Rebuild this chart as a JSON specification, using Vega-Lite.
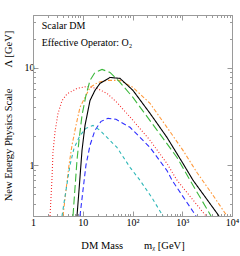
{
  "$schema": "https://vega.github.io/schema/vega-lite/v6.json",
  "width": 199,
  "height": 201,
  "autosize": {"type": "none"},
  "padding": {"left": 33, "top": 15, "right": 8, "bottom": 40},
  "config": {
    "view": {"stroke": "#9a9a9a", "strokeWidth": 1},
    "font": "Liberation Serif",
    "axis": {
      "domainColor": "#9a9a9a",
      "tickColor": "#9a9a9a",
      "labelColor": "#000",
      "labelFont": "Liberation Serif",
      "labelFontSize": 10,
      "titleFont": "Liberation Serif",
      "titleFontSize": 10.5,
      "titleFontWeight": "normal",
      "titleColor": "#000",
      "grid": false
    }
  },
  "data": {
    "values": [
      {"s": "red", "m": 2.20, "L": 0.3},
      {"s": "red", "m": 2.41, "L": 0.73},
      {"s": "red", "m": 2.52, "L": 1.35},
      {"s": "red", "m": 2.77, "L": 2.2},
      {"s": "red", "m": 3.18, "L": 3.4},
      {"s": "red", "m": 3.83, "L": 4.6},
      {"s": "red", "m": 4.82, "L": 5.40},
      {"s": "red", "m": 7.66, "L": 6.15},
      {"s": "red", "m": 12.2, "L": 6.45},
      {"s": "red", "m": 19.3, "L": 6.15},
      {"s": "red", "m": 30.7, "L": 5.47},
      {"s": "red", "m": 48.7, "L": 4.42},
      {"s": "red", "m": 102, "L": 2.89},
      {"s": "red", "m": 225, "L": 1.80},
      {"s": "red", "m": 493, "L": 1.04},
      {"s": "red", "m": 784, "L": 0.70},
      {"s": "red", "m": 3000, "L": 0.3},

      {"s": "orange", "m": 4.01, "L": 0.3},
      {"s": "orange", "m": 4.60, "L": 0.55},
      {"s": "orange", "m": 5.29, "L": 1.0},
      {"s": "orange", "m": 6.08, "L": 1.60},
      {"s": "orange", "m": 7.31, "L": 2.56},
      {"s": "orange", "m": 8.80, "L": 3.93},
      {"s": "orange", "m": 14.0, "L": 6.30},
      {"s": "orange", "m": 20.3, "L": 7.10},
      {"s": "orange", "m": 30.7, "L": 7.44},
      {"s": "orange", "m": 56.1, "L": 7.44},
      {"s": "orange", "m": 102, "L": 6.30},
      {"s": "orange", "m": 225, "L": 4.32},
      {"s": "orange", "m": 493, "L": 2.45},
      {"s": "orange", "m": 1035, "L": 1.42},
      {"s": "orange", "m": 1977, "L": 0.84},
      {"s": "orange", "m": 4150, "L": 0.49},
      {"s": "orange", "m": 7930, "L": 0.3},

      {"s": "green", "m": 6.37, "L": 0.3},
      {"s": "green", "m": 6.98, "L": 0.58},
      {"s": "green", "m": 7.66, "L": 1.12},
      {"s": "green", "m": 8.41, "L": 1.80},
      {"s": "green", "m": 9.66, "L": 3.25},
      {"s": "green", "m": 11.6, "L": 5.22},
      {"s": "green", "m": 14.0, "L": 7.44},
      {"s": "green", "m": 17.6, "L": 8.99},
      {"s": "green", "m": 24.4, "L": 9.65},
      {"s": "green", "m": 35.3, "L": 8.99},
      {"s": "green", "m": 56.1, "L": 7.10},
      {"s": "green", "m": 102, "L": 4.97},
      {"s": "green", "m": 283, "L": 2.45},
      {"s": "green", "m": 784, "L": 1.20},
      {"s": "green", "m": 1432, "L": 0.70},
      {"s": "green", "m": 3785, "L": 0.3},

      {"s": "blue", "m": 8.80, "L": 0.3},
      {"s": "blue", "m": 10.1, "L": 0.55},
      {"s": "blue", "m": 11.6, "L": 1.0},
      {"s": "blue", "m": 14.0, "L": 1.6},
      {"s": "blue", "m": 17.6, "L": 2.28},
      {"s": "blue", "m": 23.3, "L": 2.82},
      {"s": "blue", "m": 32.2, "L": 3.03},
      {"s": "blue", "m": 46.6, "L": 2.96},
      {"s": "blue", "m": 89.1, "L": 2.45},
      {"s": "blue", "m": 225, "L": 1.52},
      {"s": "blue", "m": 493, "L": 0.88},
      {"s": "blue", "m": 623, "L": 0.70},
      {"s": "blue", "m": 1890, "L": 0.3},

      {"s": "cyan", "m": 3.83, "L": 0.3},
      {"s": "cyan", "m": 4.60, "L": 0.55},
      {"s": "cyan", "m": 5.54, "L": 1.0},
      {"s": "cyan", "m": 6.67, "L": 1.49},
      {"s": "cyan", "m": 8.80, "L": 2.02},
      {"s": "cyan", "m": 11.6, "L": 2.39},
      {"s": "cyan", "m": 16.1, "L": 2.56},
      {"s": "cyan", "m": 22.2, "L": 2.28},
      {"s": "cyan", "m": 48.7, "L": 1.52},
      {"s": "cyan", "m": 89.1, "L": 0.95},
      {"s": "cyan", "m": 141, "L": 0.70},
      {"s": "cyan", "m": 247, "L": 0.46},
      {"s": "cyan", "m": 410, "L": 0.3},

      {"s": "black", "m": 7.66, "L": 0.3},
      {"s": "black", "m": 8.41, "L": 0.55},
      {"s": "black", "m": 9.66, "L": 1.42},
      {"s": "black", "m": 11.1, "L": 2.56},
      {"s": "black", "m": 14.0, "L": 4.63},
      {"s": "black", "m": 17.6, "L": 5.87},
      {"s": "black", "m": 22.2, "L": 6.93},
      {"s": "black", "m": 35.3, "L": 7.98},
      {"s": "black", "m": 56.1, "L": 7.80},
      {"s": "black", "m": 102, "L": 5.88},
      {"s": "black", "m": 225, "L": 3.41},
      {"s": "black", "m": 493, "L": 1.93},
      {"s": "black", "m": 1035, "L": 1.04},
      {"s": "black", "m": 1645, "L": 0.70},
      {"s": "black", "m": 5480, "L": 0.3}
    ]
  },
  "layer": [
    {
      "mark": {"type": "line", "clip": true},
      "encoding": {
        "x": {
          "field": "m", "type": "quantitative",
          "scale": {"type": "log", "domain": [1, 10000], "nice": false},
          "axis": {
            "orient": "bottom",
            "values": [1,2,3,4,5,6,7,8,9,10,20,30,40,50,60,70,80,90,100,200,300,400,500,600,700,800,900,1000,2000,3000,4000,5000,6000,7000,8000,9000,10000],
            "labelExpr": "datum.value == 1 ? '1' : datum.value == 10 ? '10' : datum.value == 100 ? '10²' : datum.value == 1000 ? '10³' : datum.value == 10000 ? '10⁴' : ''",
            "tickSize": {"condition": {"test": "indexof([1,10,100,1000,10000], datum.value) >= 0", "value": -5}, "value": -2.5},
            "labelPadding": 6,
            "labelFlush": false,
            "labelOverlap": false,
            "title": "DM Mass\u2003\u2003mᵪ [GeV]",
            "titlePadding": 11
          }
        },
        "y": {
          "field": "L", "type": "quantitative",
          "scale": {"type": "log", "domain": [0.3, 35], "nice": false},
          "axis": {
            "orient": "left",
            "values": [0.3,0.4,0.5,0.6,0.7,0.8,0.9,1,2,3,4,5,6,7,8,9,10,20,30],
            "labelExpr": "datum.value == 1 ? '1' : datum.value == 10 ? '10' : ''",
            "tickSize": {"condition": {"test": "datum.value == 1 || datum.value == 10", "value": -5}, "value": -2.5},
            "labelPadding": 4,
            "labelOverlap": false,
            "labelFlush": false,
            "title": "New Energy Physics Scale\u2003\u2003Λ [GeV]",
            "titlePadding": 11
          }
        },
        "color": {
          "field": "s", "type": "nominal", "legend": null,
          "scale": {
            "domain": ["red", "orange", "green", "blue", "cyan", "black"],
            "range": ["#f42a2a", "#ff9a3c", "#3cb83c", "#2f2fff", "#30b8b8", "#000000"]
          }
        },
        "strokeDash": {
          "field": "s", "type": "nominal", "legend": null,
          "scale": {
            "domain": ["red", "orange", "green", "blue", "cyan", "black"],
            "range": [[1, 2], [4, 2, 1.5, 2], [8, 3.5], [5, 3], [3.5, 3], [1, 0]]
          }
        },
        "strokeWidth": {
          "field": "s", "type": "nominal", "legend": null,
          "scale": {
            "domain": ["red", "orange", "green", "blue", "cyan", "black"],
            "range": [1.1, 1.1, 1.1, 1.1, 1.1, 0.85]
          }
        }
      }
    },
    {
      "mark": {"type": "line", "opacity": 0},
      "encoding": {
        "x": {
          "field": "m", "type": "quantitative",
          "scale": {"type": "log", "domain": [1, 10000], "nice": false},
          "axis": {
            "orient": "top",
            "values": [1,2,3,4,5,6,7,8,9,10,20,30,40,50,60,70,80,90,100,200,300,400,500,600,700,800,900,1000,2000,3000,4000,5000,6000,7000,8000,9000,10000],
            "labels": false,
            "tickSize": {"condition": {"test": "indexof([1,10,100,1000,10000], datum.value) >= 0", "value": -5}, "value": -2.5},
            "title": null
          }
        },
        "y": {
          "field": "L", "type": "quantitative",
          "scale": {"type": "log", "domain": [0.3, 35], "nice": false},
          "axis": {
            "orient": "right",
            "values": [0.3,0.4,0.5,0.6,0.7,0.8,0.9,1,2,3,4,5,6,7,8,9,10,20,30],
            "labels": false,
            "tickSize": {"condition": {"test": "datum.value == 1 || datum.value == 10", "value": -5}, "value": -2.5},
            "title": null
          }
        }
      }
    },
    {
      "data": {"values": [{"t": "Scalar DM"}]},
      "mark": {"type": "text", "align": "left", "baseline": "middle", "fontSize": 10, "font": "Liberation Serif", "color": "#000"},
      "encoding": {
        "x": {"datum": 1.5, "type": "quantitative", "axis": null},
        "y": {"datum": 26.7, "type": "quantitative", "axis": null},
        "text": {"field": "t"}
      }
    },
    {
      "data": {"values": [{"t": "Effective Operator: O₂"}]},
      "mark": {"type": "text", "align": "left", "baseline": "middle", "fontSize": 10, "font": "Liberation Serif", "color": "#000"},
      "encoding": {
        "x": {"datum": 1.5, "type": "quantitative", "axis": null},
        "y": {"datum": 17.9, "type": "quantitative", "axis": null},
        "text": {"field": "t"}
      }
    }
  ],
  "resolve": {"axis": {"x": "independent", "y": "independent"}}
}
